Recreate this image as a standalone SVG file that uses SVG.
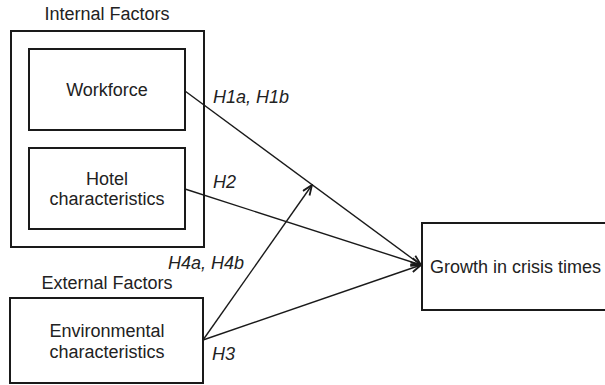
<svg xmlns="http://www.w3.org/2000/svg" width="605" height="385" viewBox="0 0 605 385">
<style>
.box{fill:none;stroke:#1a1a1a;stroke-width:2}
.t{font-family:"Liberation Sans",Arial,sans-serif;font-size:18px;fill:#222}
.c{text-anchor:middle}
.i{font-style:italic}
.ln{fill:none;stroke:#1a1a1a;stroke-width:1.4}
</style>
<defs>
<marker id="ah" viewBox="0 0 12 10" refX="11" refY="5" markerWidth="12" markerHeight="10" markerUnits="userSpaceOnUse" orient="auto">
<path d="M1,1 L11,5 L1,9" fill="none" stroke="#1a1a1a" stroke-width="1.8"/>
</marker>
</defs>
<rect x="0" y="0" width="605" height="385" fill="#fff"/>
<g id="internal">
<rect class="box" x="11" y="31" width="193" height="216"/>
<text class="t c" x="107" y="20">Internal Factors</text>
</g>
<g id="workforce">
<rect class="box" x="29" y="49" width="156" height="81"/>
<text class="t c" x="107" y="96">Workforce</text>
</g>
<g id="hotel">
<rect class="box" x="29" y="148" width="156" height="81"/>
<text class="t c" x="107" y="185">Hotel</text>
<text class="t c" x="107" y="205">characteristics</text>
</g>
<g id="external">
<text class="t c" x="107" y="289">External Factors</text>
</g>
<g id="environmental">
<rect class="box" x="10" y="298" width="193" height="85"/>
<text class="t c" x="107" y="337">Environmental</text>
<text class="t c" x="107" y="358">characteristics</text>
</g>
<g id="growth">
<rect class="box" x="422" y="223" width="260" height="87"/>
<text class="t" x="430" y="273">Growth in crisis times</text>
</g>
<g id="connectors">
<line class="ln" x1="185" y1="91" x2="421" y2="265" marker-end="url(#ah)"/>
<line class="ln" x1="185" y1="189" x2="421" y2="265" marker-end="url(#ah)"/>
<line class="ln" x1="203" y1="340" x2="421" y2="265" marker-end="url(#ah)"/>
<line class="ln" x1="203" y1="340" x2="312" y2="185" marker-end="url(#ah)"/>
<text class="t i" x="213" y="103">H1a, H1b</text>
<text class="t i" x="213" y="188">H2</text>
<text class="t i" x="168" y="269">H4a, H4b</text>
<text class="t i" x="212" y="360">H3</text>
</g>
</svg>
